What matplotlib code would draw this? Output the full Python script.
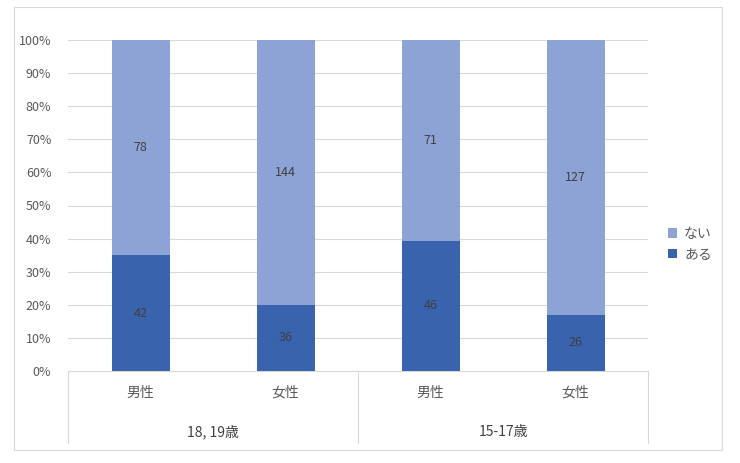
import matplotlib
matplotlib.use('Agg')
import matplotlib.pyplot as plt
from matplotlib.patches import Rectangle

plt.rcParams['font.family'] = ['Noto Sans CJK JP', 'DejaVu Sans']

genders = ['男性', '女性', '男性', '女性']
groups = ['18, 19歳', '15-17歳']
aru = [42, 36, 46, 26]
nai = [78, 144, 71, 127]

c_aru = '#3A63AE'
c_nai = '#8EA3D5'
grid_c = '#D9D9D9'
txt_c = '#595959'

fig = plt.figure(figsize=(7.4, 4.63), dpi=100)
ax = fig.add_axes([68 / 740, 1 - 371 / 463, 580 / 740, 331 / 463])

x = [i + 0.5 for i in range(len(genders))]
tot = [a + n for a, n in zip(aru, nai)]
p_aru = [a / t * 100 for a, t in zip(aru, tot)]
p_nai = [n / t * 100 for n, t in zip(nai, tot)]

ax.bar(x, p_aru, width=0.4, color=c_aru, label='ある', zorder=3)
ax.bar(x, p_nai, width=0.4, bottom=p_aru, color=c_nai, label='ない', zorder=3)
for xi, pa, pn, a, n in zip(x, p_aru, p_nai, aru, nai):
    ax.text(xi, pa / 2, str(a), ha='center', va='center', fontsize=9, color='#404040', zorder=4)
    ax.text(xi, pa + pn / 2, str(n), ha='center', va='center', fontsize=9, color='#404040', zorder=4)

ax.set_xlim(0, 4)
ax.set_ylim(0, 100)
ax.set_yticks(range(0, 101, 10))
ax.set_yticklabels([f'{v}%' for v in range(0, 101, 10)], fontsize=9, color=txt_c)
ax.yaxis.grid(True, color=grid_c, linewidth=0.8, zorder=0)
ax.tick_params(axis='y', length=0, pad=12)
ax.set_xticks([])
for s in ['top', 'right', 'left']:
    ax.spines[s].set_visible(False)
ax.spines['bottom'].set_color(grid_c)

# multi-level category axis
depth = (443 - 371) / 331
for xv in [0, 2, 4]:
    ax.plot([xv, xv], [0, -depth * 100], color=grid_c, lw=0.8, clip_on=False,
            transform=ax.transData)
for xi, g in zip(x, genders):
    ax.text(xi, -(393 - 371) / 331 * 100, g, ha='center', va='center', fontsize=10, color=txt_c)
for i, g in enumerate(groups):
    ax.text(2 * i + 1, -(432 - 371) / 331 * 100, g, ha='center', va='center', fontsize=10, color='#404040')

h, l = ax.get_legend_handles_labels()
fig.legend(h[::-1], l[::-1], loc='center left', bbox_to_anchor=(655 / 740, 1 - 244 / 463),
           frameon=False, fontsize=10, handlelength=0.7, handleheight=0.7,
           handletextpad=0.5, labelcolor=txt_c)

fig.patches.append(Rectangle((14 / 740, 1 - 450 / 463), 708 / 740, 443 / 463,
                             transform=fig.transFigure, fill=False, edgecolor=grid_c, lw=0.8))

fig.savefig('out.png', dpi=100)
